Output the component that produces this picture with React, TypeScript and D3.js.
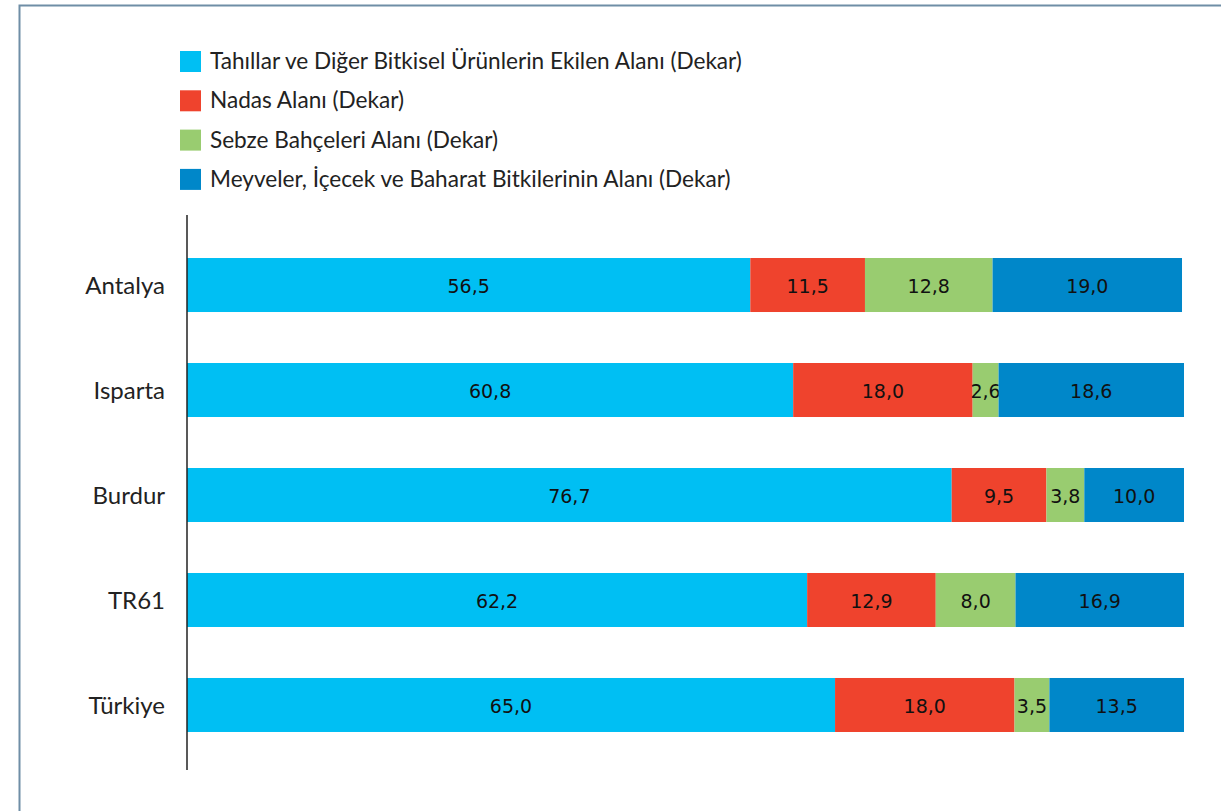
import React, { useEffect, useRef } from "react";
import * as d3 from "d3";

const categories = ["Antalya", "Isparta", "Burdur", "TR61", "Türkiye"];
const seriesNames = [
  "Tahıllar ve Diğer Bitkisel Ürünlerin Ekilen Alanı (Dekar)",
  "Nadas Alanı (Dekar)",
  "Sebze Bahçeleri Alanı (Dekar)",
  "Meyveler, İçecek ve Baharat Bitkilerinin Alanı (Dekar)",
];
const tahillar = [56.5, 60.8, 76.7, 62.2, 65.0];
const nadas = [11.5, 18.0, 9.5, 12.9, 18.0];
const sebze = [12.8, 2.6, 3.8, 8.0, 3.5];
const meyveler = [19.0, 18.6, 10.0, 16.9, 13.5];
const colors = ["#00bff3", "#ef432d", "#99cc70", "#0087c9"];

const W = 1221;
const H = 811;

export default function App() {
  const ref = useRef<SVGSVGElement>(null);

  useEffect(() => {
    document.body.style.margin = "0";
    const svg = d3.select(ref.current);
    svg.selectAll("*").remove();

    // frame
    svg.append("rect")
      .attr("x", 19.5).attr("y", 5.5)
      .attr("width", W).attr("height", H)
      .attr("fill", "none")
      .attr("stroke", "#6f8ea6")
      .attr("stroke-width", 2);

    const rows = categories.map((c, i) => ({
      name: c,
      s0: tahillar[i], s1: nadas[i], s2: sebze[i], s3: meyveler[i],
    }));
    const keys = ["s0", "s1", "s2", "s3"];
    const stacked = d3.stack<any>().keys(keys)(rows);

    const x = d3.scaleLinear().domain([0, 100]).range([187, 1184]);
    const y = d3.scaleBand().domain(categories).range([232.5, 757.5])
      .paddingInner(51 / 105).paddingOuter(0.243);

    // legend
    const legend = svg.append("g");
    seriesNames.forEach((name, i) => {
      const g = legend.append("g").attr("transform", `translate(180,${51 + i * 39.3})`);
      g.append("rect").attr("width", 21).attr("height", 21).attr("fill", colors[i]);
      g.append("text")
        .attr("x", 30).attr("y", 18)
        .attr("font-family", "Lato, sans-serif")
        .attr("font-size", 22.6)
        .attr("fill", "#222")
        .text(name);
    });

    // bars
    stacked.forEach((layer, li) => {
      const g = svg.append("g");
      g.selectAll("rect").data(layer).join("rect")
        .attr("x", d => x(d[0]))
        .attr("y", d => y(d.data.name)!)
        .attr("width", d => x(d[1]) - x(d[0]))
        .attr("height", y.bandwidth())
        .attr("fill", colors[li]);
      g.selectAll("text").data(layer).join("text")
        .attr("x", d => (x(d[0]) + x(d[1])) / 2)
        .attr("y", d => y(d.data.name)! + y.bandwidth() / 2 + 8)
        .attr("text-anchor", "middle")
        .attr("font-family", "'DejaVu Sans', sans-serif")
        .attr("font-size", 19)
        .attr("fill", "#111")
        .text(d => (d[1] - d[0]).toFixed(1).replace(".", ","));
    });

    // category labels
    svg.append("g").selectAll("text").data(categories).join("text")
      .attr("x", 165)
      .attr("y", d => y(d)! + y.bandwidth() / 2 + 9)
      .attr("text-anchor", "end")
      .attr("font-family", "Lato, sans-serif")
      .attr("font-size", 24)
      .attr("fill", "#222")
      .text(d => d);

    // axis line
    svg.append("line")
      .attr("x1", 187).attr("x2", 187)
      .attr("y1", 215).attr("y2", 770)
      .attr("stroke", "#222")
      .attr("stroke-width", 1.5);
  }, []);

  return <svg ref={ref} width={W} height={H} style={{ display: "block" }}></svg>;
}
